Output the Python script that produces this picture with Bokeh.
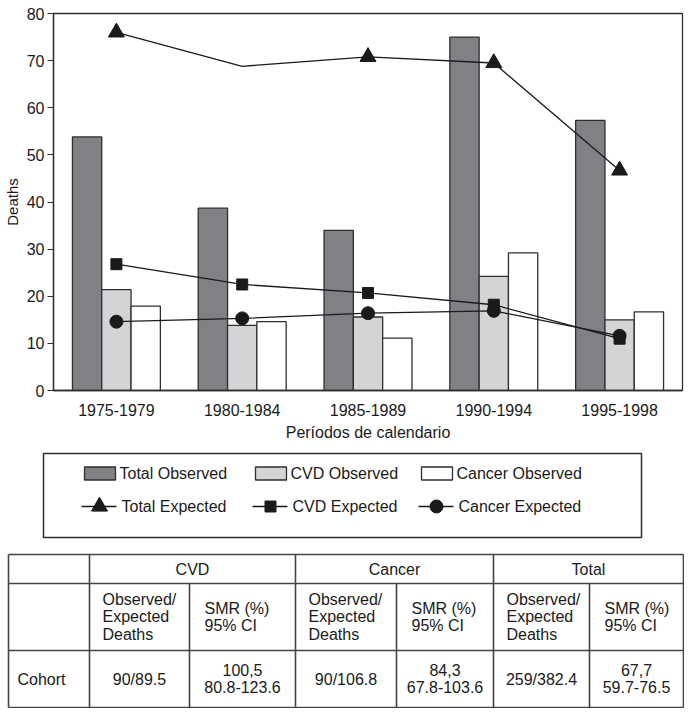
from bokeh.plotting import figure
from bokeh.models import (ColumnDataSource, FactorRange, Range1d, FixedTicker,
                          CDSView, IndexFilter)
from bokeh.transform import dodge
from bokeh.core.properties import value
from bokeh.embed import file_html
from bokeh.resources import INLINE

FONT = "Liberation Sans"
FS = "16px"
INK = "#1a1a1a"
EDGE = "#2e2e2e"

# data
periods = ["1975-1979", "1980-1984", "1985-1989", "1990-1994", "1995-1998"]
total_observed = [53.8, 38.7, 34.0, 75.0, 57.3]
cvd_observed = [21.4, 13.8, 15.6, 24.2, 15.0]
cancer_observed = [17.9, 14.6, 11.1, 29.2, 16.7]
total_expected = [76.0, 68.8, 70.8, 69.5, 46.7]
cvd_expected = [26.8, 22.5, 20.7, 18.2, 11.0]
cancer_expected = [14.6, 15.3, 16.4, 16.9, 11.6]
y_ticks = [0, 10, 20, 30, 40, 50, 60, 70, 80]

bar_labels = ["Total Observed", "CVD Observed", "Cancer Observed"]
line_labels = ["Total Expected", "CVD Expected", "Cancer Expected"]

# table below the chart
table_groups = ["CVD", "Cancer", "Total"]
table_row = "Cohort"
sub_headers = ["Observed/\nExpected\nDeaths", "SMR (%)\n95% CI"]
obs_exp = ["90/89.5", "90/106.8", "259/382.4"]
smr = ["100,5", "84,3", "67,7"]
smr_ci = ["80.8-123.6", "67.8-103.6", "59.7-76.5"]

bar_fills = ["#808185", "#d3d4d6", "#ffffff"]
markers = ["triangle", "square", "circle"]
marker_sizes = [16, 11, 13]


# ---- chart ----
src = ColumnDataSource(data={
    "period": periods,
    "tot_obs": total_observed,
    "cvd_obs": cvd_observed,
    "can_obs": cancer_observed,
    "tot_exp": total_expected,
    "cvd_exp": cvd_expected,
    "can_exp": cancer_expected,
})

p = figure(x_range=FactorRange(factors=periods, range_padding=0),
           y_range=Range1d(0, 80), width=684, height=443,
           min_border_left=46, min_border_right=2, min_border_top=13,
           min_border_bottom=48, output_backend="svg", toolbar_location=None)

bar_w = 0.233
for off, col, fill in zip([-bar_w, 0, bar_w], ["tot_obs", "cvd_obs", "can_obs"], bar_fills):
    p.vbar(x=dodge("period", off, range=p.x_range), top=col, width=bar_w,
           source=src, fill_color=fill, line_color=EDGE, line_width=1.3)

for col, mk, sz in zip(["tot_exp", "cvd_exp", "can_exp"], markers, marker_sizes):
    p.line(x="period", y=col, source=src, line_color=INK, line_width=1.3)
    # the original shows no triangle on the 1980-1984 point
    idx = [0, 2, 3, 4] if col == "tot_exp" else list(range(len(periods)))
    p.scatter(x="period", y=col, source=src, view=CDSView(filter=IndexFilter(idx)),
              marker=mk, size=sz, fill_color=INK, line_color=INK)

p.xgrid.visible = False
p.ygrid.visible = False
p.outline_line_color = EDGE
p.outline_line_width = 1.3
p.outline_line_alpha = 1.0

p.yaxis.ticker = FixedTicker(ticks=y_ticks)
p.yaxis.minor_tick_line_color = None
p.yaxis.major_tick_in = 0
p.yaxis.major_tick_out = 6
p.yaxis.major_label_standoff = 3
p.yaxis.axis_label = "Deaths"
p.yaxis.axis_label_standoff = 3
p.yaxis.axis_label_text_font_size = "15px"

p.xaxis.major_label_standoff = 7
p.xaxis.axis_label = "Períodos de calendario"
p.xaxis.axis_label_standoff = 5
p.xaxis.axis_label_text_font_size = FS

p.axis.axis_line_color = EDGE
p.axis.axis_line_width = 1.3
p.axis.major_tick_line_color = EDGE
p.xaxis.major_tick_line_color = None
p.axis.major_label_text_font = FONT
p.axis.major_label_text_font_size = FS
p.axis.major_label_text_color = INK
p.axis.axis_label_text_font = FONT
p.axis.axis_label_text_font_style = "normal"
p.axis.axis_label_text_color = INK


# ---- legend box ----
lg = figure(x_range=Range1d(0, 598), y_range=Range1d(84, 0), width=684, height=97,
            min_border_left=43, min_border_right=43, min_border_top=10, min_border_bottom=3,
            x_axis_location=None, y_axis_location=None,
            output_backend="svg", toolbar_location=None)
lg.grid.visible = False
lg.outline_line_color = EDGE
lg.outline_line_width = 1.5
lg.outline_line_alpha = 1.0

leg_cols = [41, 212, 378]
row1, row2 = 20, 53
lg.rect(x=[c + 15.5 for c in leg_cols], y=[row1] * 3, width=31, height=13,
        fill_color=bar_fills, line_color=EDGE, line_width=1.3)
lg.text(x=[c + 35 for c in leg_cols], y=[row1] * 3, text=bar_labels,
        text_font=value(FONT), text_font_size=FS, text_color=INK,
        text_align="left", text_baseline="middle")
lg.segment(x0=[c - 3 for c in leg_cols], y0=[row2] * 3,
           x1=[c + 32 for c in leg_cols], y1=[row2] * 3,
           line_color=INK, line_width=1.5)
lg.scatter(x=[c + 15 for c in leg_cols], y=[row2] * 3, marker=markers,
           size=marker_sizes, fill_color=INK, line_color=INK)
lg.text(x=[c + 37 for c in leg_cols], y=[row2] * 3, text=line_labels,
        text_font=value(FONT), text_font_size=FS, text_color=INK,
        text_align="left", text_baseline="middle")


# ---- table ----
tb = figure(x_range=Range1d(0, 684), y_range=Range1d(168, 0), width=684, height=168,
            min_border_left=0, min_border_right=0, min_border_top=0, min_border_bottom=0,
            x_axis_location=None, y_axis_location=None,
            output_backend="svg", toolbar_location=None)
tb.grid.visible = False
tb.outline_line_color = None

tbl_left, tbl_right = 8, 683
group_left = [89, 295, 493]
group_mid = [189, 396, 589]
group_right = [295, 493, 683]
row_lines = [14, 43, 110, 167]

full_v = [tbl_left] + group_left + [tbl_right]
tb.segment(x0=full_v, y0=[row_lines[0]] * len(full_v), x1=full_v,
           y1=[row_lines[-1]] * len(full_v), line_color="#444", line_width=1.6)
tb.segment(x0=group_mid, y0=[row_lines[1]] * 3, x1=group_mid,
           y1=[row_lines[-1]] * 3, line_color="#444", line_width=1.6)
tb.segment(x0=[tbl_left] * 4, y0=row_lines, x1=[tbl_right] * 4, y1=row_lines,
           line_color="#444", line_width=1.6)

txt = dict(text_font=value(FONT), text_font_size=FS, text_color=INK,
           text_baseline="middle", text_line_height=1.05)
hdr_y = (row_lines[0] + row_lines[1]) / 2
sub_y = (row_lines[1] + row_lines[2]) / 2
dat_y = (row_lines[2] + row_lines[3]) / 2

tb.text(x=[(a + b) / 2 for a, b in zip(group_left, group_right)], y=[hdr_y] * 3,
        text=table_groups, text_align="center", **txt)
tb.text(x=[a + 13 for a in group_left], y=[sub_y] * 3,
        text=[sub_headers[0]] * 3, text_align="left", **txt)
tb.text(x=[m + 15 for m in group_mid], y=[sub_y] * 3,
        text=[sub_headers[1]] * 3, text_align="left", **txt)
tb.text(x=[17], y=[dat_y], text=[table_row], text_align="left", **txt)
tb.text(x=[(a + m) / 2 for a, m in zip(group_left, group_mid)], y=[dat_y] * 3,
        text=obs_exp, text_align="center", **txt)
tb.text(x=[(m + b) / 2 for m, b in zip(group_mid, group_right)], y=[dat_y] * 3,
        text=[s + "\n" + c for s, c in zip(smr, smr_ci)], text_align="center", **txt)

# separate roots so the three frames are not aligned to each other
open("out.html", "w").write(file_html([p, lg, tb], INLINE))
